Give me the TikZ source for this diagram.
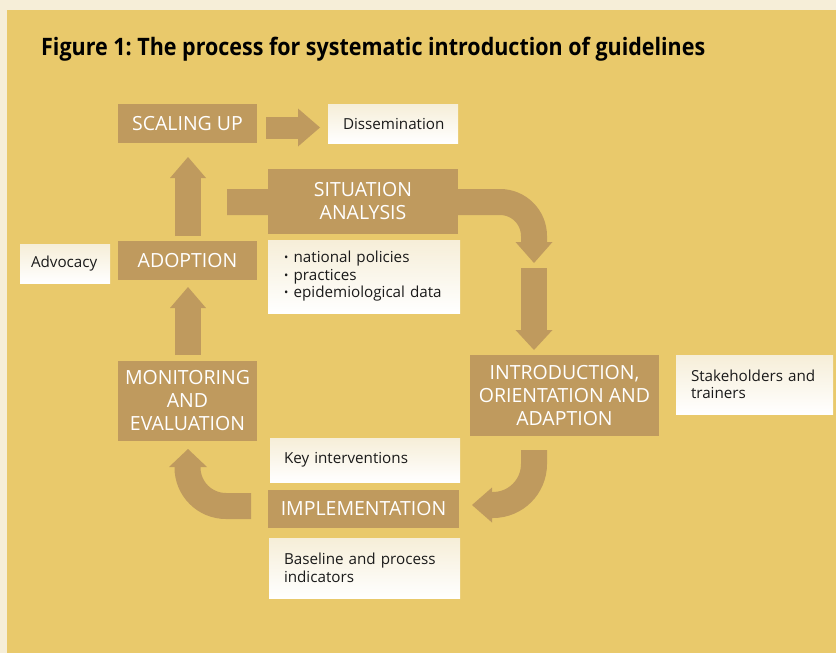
\documentclass[tikz,border=0pt]{standalone}
\usepackage{fontspec}
\setmainfont{Open Sans}
\usepackage{graphicx}
\definecolor{cream}{HTML}{F6EED8}
\definecolor{gold}{HTML}{E9C96B}
\definecolor{boxbrown}{HTML}{BF9A5E}
\definecolor{ink}{HTML}{1A1A1A}
\newcommand{\smallbul}{\raisebox{0.12ex}{\scalebox{0.75}{•}}\hspace{0.35em}}
\tikzset{
  stage/.style={fill=boxbrown, text=white, font=\fontsize{19.5}{23}\selectfont, align=center, inner sep=0pt},
  note/.style={top color=cream, bottom color=white, text=ink, font=\fontsize{15.2}{17.5}\selectfont, align=left, inner ysep=0pt},
  shaft/.style={draw=boxbrown, line width=26pt},
  head/.style={fill=boxbrown},
}
\begin{document}
\begin{tikzpicture}[x=1pt,y=-1pt]
\useasboundingbox (0,0) rectangle (836,653);
\fill[cream] (0,0) rectangle (836,653);
\fill[gold] (7,10) rectangle (836,653);

\node[anchor=base west, text=black, font=\fontsize{24}{28}\selectfont\bfseries, inner sep=0pt] (title) at (41,56)
  {\scalebox{0.895}[1]{Figure 1:\ The process for systematic introduction of guidelines}};

% block arrows (behind the boxes)
\coordinate (r1) at (266,127.5); \coordinate (r2) at (299,127.5);
\draw[shaft, line width=22pt] (r1) -- (r2);
\fill[head] (298,108.5) -- (320,127.5) -- (298,146.5) -- cycle;

\coordinate (u1) at (188,236); \coordinate (u2) at (188,177);
\draw[shaft] (u1) -- (u2);
\fill[head] (170,178) -- (188,157) -- (206,178) -- cycle;

\coordinate (u3) at (188,355); \coordinate (u4) at (188,307);
\draw[shaft] (u3) -- (u4);
\fill[head] (170,308) -- (188,287) -- (206,308) -- cycle;

\coordinate (s1) at (227,202);
\draw[shaft] (s1) -- (500,202) arc(-90:0:34) -- (534,243);
\fill[head] (515.5,242) -- (534,263) -- (552.5,242) -- cycle;

\coordinate (d1) at (534,268); \coordinate (d2) at (534,331);
\draw[shaft] (d1) -- (d2);
\fill[head] (515.5,330) -- (534,350) -- (552.5,330) -- cycle;

\coordinate (i1) at (534,450);
\draw[shaft] (i1) -- (534,464) arc(0:90:41) -- (491,505);
\fill[head] (492,487.5) -- (472,505) -- (492,522.5) -- cycle;

\coordinate (m1) at (251,506);
\draw[shaft] (m1) -- (226,506) arc(90:180:38.5) -- (187.5,466);
\fill[head] (169,467) -- (188,449) -- (207,467) -- cycle;

% stage boxes
\node[stage, minimum width=139, minimum height=39] (scal) at (187.5,123.5) {SCALING UP};
\node[stage, minimum width=190, minimum height=65] (sit) at (363,201.5) {SITUATION\\ANALYSIS};
\node[stage, minimum width=139, minimum height=39] (adopt) at (187.5,260.5) {ADOPTION};
\node[stage, minimum width=139, minimum height=80] (monit) at (187.5,401) {MONITORING\\AND\\EVALUATION};
\node[stage, minimum width=189, minimum height=81] (intro) at (564.5,395.5) {INTRODUCTION,\\ORIENTATION AND\\ADAPTION};
\node[stage, minimum width=191, minimum height=38] (impl) at (363.5,509) {IMPLEMENTATION};

% note boxes
\node[note, inner xsep=15, text width=100, minimum height=39] (diss) at (393,123.5) {Dissemination};
\node[note, inner xsep=11, text width=68, minimum height=39] (advoc) at (65,263.5) {Advocacy};
\node[note, inner xsep=16, text width=160, minimum height=73] (bull) at (364,276.5)
  {\smallbul national policies\\\smallbul practices\\\smallbul epidemiological data};
\node[note, inner xsep=15, text width=127, minimum height=59] (stake) at (754.5,384.5) {Stakeholders and\\trainers};
\node[note, inner xsep=14, text width=162, minimum height=44] (key) at (365,460) {Key interventions};
\node[note, inner xsep=15, text width=161, minimum height=60] (base) at (364.5,568) {Baseline and process\\indicators};
\end{tikzpicture}
\end{document}
